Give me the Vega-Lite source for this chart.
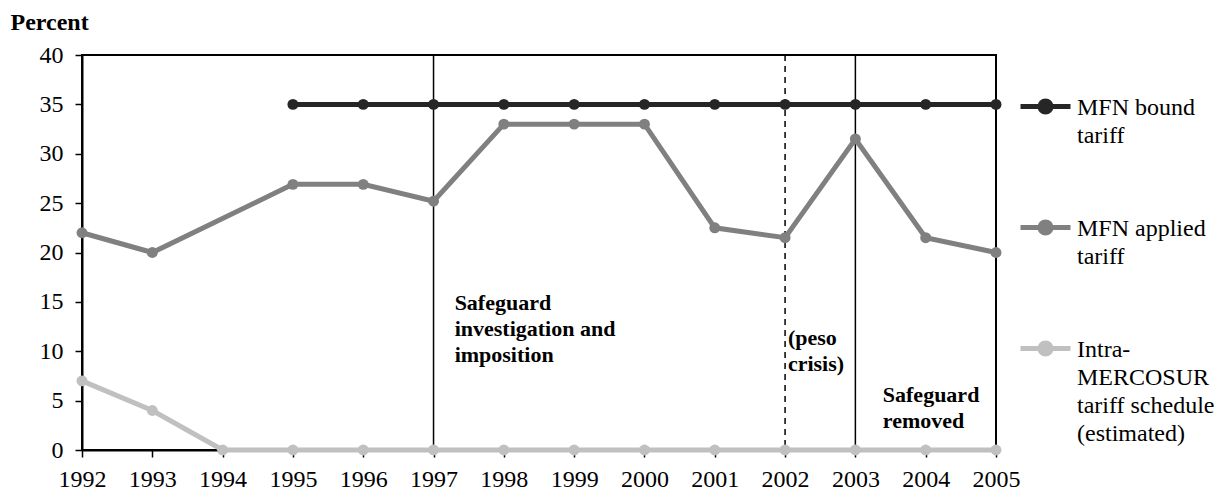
{
  "$schema": "https://vega.github.io/schema/vega-lite/v6.json",
  "width": 914,
  "height": 395,
  "autosize": {"type": "none"},
  "padding": {"left": 82, "top": 55, "right": 231, "bottom": 41},
  "background": "white",
  "config": {
    "view": {"stroke": "#000", "strokeWidth": 2},
    "font": "Liberation Serif, Times New Roman, serif",
    "axis": {"labelFont": "Liberation Serif, Times New Roman, serif", "titleFont": "Liberation Serif, Times New Roman, serif"},
    "legend": {"labelFont": "Liberation Serif, Times New Roman, serif"},
    "text": {"font": "Liberation Serif, Times New Roman, serif"}
  },
  "datasets": {
    "series": [
      {"year": 1995, "value": 35, "series": "MFN bound tariff"},
      {"year": 1996, "value": 35, "series": "MFN bound tariff"},
      {"year": 1997, "value": 35, "series": "MFN bound tariff"},
      {"year": 1998, "value": 35, "series": "MFN bound tariff"},
      {"year": 1999, "value": 35, "series": "MFN bound tariff"},
      {"year": 2000, "value": 35, "series": "MFN bound tariff"},
      {"year": 2001, "value": 35, "series": "MFN bound tariff"},
      {"year": 2002, "value": 35, "series": "MFN bound tariff"},
      {"year": 2003, "value": 35, "series": "MFN bound tariff"},
      {"year": 2004, "value": 35, "series": "MFN bound tariff"},
      {"year": 2005, "value": 35, "series": "MFN bound tariff"},
      {"year": 1992, "value": 22, "series": "MFN applied tariff"},
      {"year": 1993, "value": 20, "series": "MFN applied tariff"},
      {"year": 1995, "value": 26.9, "series": "MFN applied tariff"},
      {"year": 1996, "value": 26.9, "series": "MFN applied tariff"},
      {"year": 1997, "value": 25.2, "series": "MFN applied tariff"},
      {"year": 1998, "value": 33, "series": "MFN applied tariff"},
      {"year": 1999, "value": 33, "series": "MFN applied tariff"},
      {"year": 2000, "value": 33, "series": "MFN applied tariff"},
      {"year": 2001, "value": 22.5, "series": "MFN applied tariff"},
      {"year": 2002, "value": 21.5, "series": "MFN applied tariff"},
      {"year": 2003, "value": 31.5, "series": "MFN applied tariff"},
      {"year": 2004, "value": 21.5, "series": "MFN applied tariff"},
      {"year": 2005, "value": 20, "series": "MFN applied tariff"},
      {"year": 1992, "value": 7, "series": "Intra-MERCOSUR tariff schedule (estimated)"},
      {"year": 1993, "value": 4, "series": "Intra-MERCOSUR tariff schedule (estimated)"},
      {"year": 1994, "value": 0, "series": "Intra-MERCOSUR tariff schedule (estimated)"},
      {"year": 1995, "value": 0, "series": "Intra-MERCOSUR tariff schedule (estimated)"},
      {"year": 1996, "value": 0, "series": "Intra-MERCOSUR tariff schedule (estimated)"},
      {"year": 1997, "value": 0, "series": "Intra-MERCOSUR tariff schedule (estimated)"},
      {"year": 1998, "value": 0, "series": "Intra-MERCOSUR tariff schedule (estimated)"},
      {"year": 1999, "value": 0, "series": "Intra-MERCOSUR tariff schedule (estimated)"},
      {"year": 2000, "value": 0, "series": "Intra-MERCOSUR tariff schedule (estimated)"},
      {"year": 2001, "value": 0, "series": "Intra-MERCOSUR tariff schedule (estimated)"},
      {"year": 2002, "value": 0, "series": "Intra-MERCOSUR tariff schedule (estimated)"},
      {"year": 2003, "value": 0, "series": "Intra-MERCOSUR tariff schedule (estimated)"},
      {"year": 2004, "value": 0, "series": "Intra-MERCOSUR tariff schedule (estimated)"},
      {"year": 2005, "value": 0, "series": "Intra-MERCOSUR tariff schedule (estimated)"}
    ],
    "solidEvents": [{"year": 1997}, {"year": 2003}],
    "dashedEvents": [{"year": 2002}],
    "notes": [
      {"year": 1997.3, "value": 14.18, "text": "Safeguard|investigation and|imposition"},
      {"year": 2002.04, "value": 10.63, "text": "(peso|crisis)"},
      {"year": 2003.39, "value": 4.86, "text": "Safeguard|removed"}
    ]
  },
  "layer": [
    {
      "data": {"name": "solidEvents"},
      "mark": {"type": "rule", "color": "#000", "strokeWidth": 1.5},
      "encoding": {
        "x": {"field": "year", "type": "quantitative", "scale": {"domain": [1992, 2005], "nice": false, "zero": false}}
      }
    },
    {
      "data": {"name": "dashedEvents"},
      "mark": {"type": "rule", "color": "#000", "strokeWidth": 1.5, "strokeDash": [6, 5]},
      "encoding": {
        "x": {"field": "year", "type": "quantitative"}
      }
    },
    {
      "data": {"name": "series"},
      "mark": {"type": "line", "strokeWidth": 5},
      "encoding": {
        "x": {
          "field": "year", "type": "quantitative",
          "axis": {
            "title": null,
            "values": [1992,1993,1994,1995,1996,1997,1998,1999,2000,2001,2002,2003,2004,2005],
            "format": "d",
            "grid": false,
            "domainColor": "#000", "domainWidth": 2,
            "tickColor": "#000", "tickWidth": 1.5, "tickSize": 7,
            "labelFont": "Liberation Serif, Times New Roman, serif", "labelFontSize": 24, "labelColor": "#000",
            "labelPadding": 10, "labelFlush": false, "labelOverlap": false
          }
        },
        "y": {
          "field": "value", "type": "quantitative",
          "scale": {"domain": [0, 40], "nice": false},
          "axis": {
            "title": "Percent",
            "titleAngle": 0, "titleX": -72, "titleY": -26,
            "titleAlign": "left", "titleBaseline": "alphabetic",
            "titleFont": "Liberation Serif, Times New Roman, serif", "titleFontSize": 24, "titleFontWeight": "bold", "titleColor": "#000",
            "values": [0,5,10,15,20,25,30,35,40],
            "grid": false,
            "domainColor": "#000", "domainWidth": 2,
            "tickColor": "#000", "tickWidth": 1.5, "tickSize": 7,
            "labelFont": "Liberation Serif, Times New Roman, serif", "labelFontSize": 24, "labelColor": "#000",
            "labelPadding": 12, "labelFlush": false, "labelOverlap": false
          }
        },
        "color": {
          "field": "series", "type": "nominal",
          "scale": {
            "domain": ["MFN bound tariff", "MFN applied tariff", "Intra-MERCOSUR tariff schedule (estimated)"],
            "range": ["#262626", "#808080", "#c0c0c0"]
          },
          "legend": {
            "title": null,
            "orient": "none",
            "legendX": 936,
            "legendY": 24,
            "symbolType": "M-1,0H1M-0.22,0A0.22,0.22,0,1,1,0.22,0A0.22,0.22,0,1,1,-0.22,0Z",
            "symbolSize": 2500,
            "symbolStrokeWidth": 5,
            "labelFont": "Liberation Serif, Times New Roman, serif", "labelFontSize": 24, "labelColor": "#000",
            "labelBaseline": "alphabetic",
            "labelOffset": 4,
            "labelLimit": 400,
            "rowPadding": 52,
            "labelExpr": "datum.label == 'MFN bound tariff' ? ['MFN bound', 'tariff'] : datum.label == 'MFN applied tariff' ? ['MFN applied', 'tariff'] : ['Intra-', 'MERCOSUR', 'tariff schedule', '(estimated)']",
            "encode": {
              "symbols": {"update": {
                "fill": {"scale": "color", "field": "value"},
                "stroke": {"scale": "color", "field": "value"},
                "strokeWidth": {"value": 5},
                "opacity": {"value": 1}
              }},
              "labels": {"update": {"dy": {"value": 8}, "lineHeight": {"value": 28}, "font": {"value": "Liberation Serif, Times New Roman, serif"}}}
            }
          }
        }
      }
    },
    {
      "data": {"name": "series"},
      "mark": {"type": "circle", "size": 120, "opacity": 1},
      "encoding": {
        "x": {"field": "year", "type": "quantitative"},
        "y": {"field": "value", "type": "quantitative"},
        "color": {"field": "series", "type": "nominal"}
      }
    },
    {
      "data": {"name": "notes"},
      "mark": {"type": "text", "align": "left", "baseline": "alphabetic", "font": "Liberation Serif, Times New Roman, serif", "fontSize": 22, "fontWeight": "bold", "color": "#000", "lineBreak": "|", "lineHeight": 26},
      "encoding": {
        "x": {"field": "year", "type": "quantitative"},
        "y": {"field": "value", "type": "quantitative"},
        "text": {"field": "text", "type": "nominal"}
      }
    }
  ]
}
